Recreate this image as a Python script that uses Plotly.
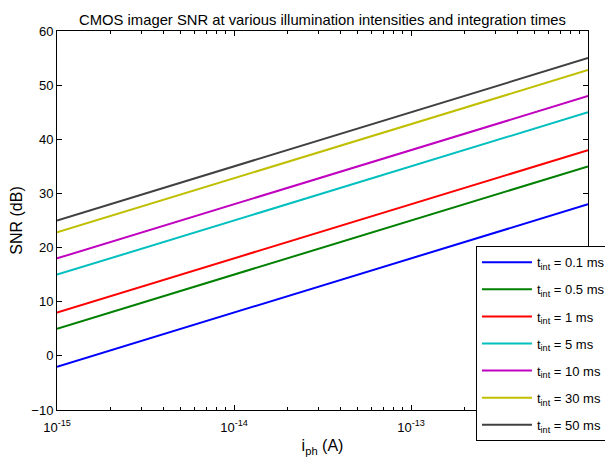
import plotly.graph_objects as go

iph = [1e-15, 2e-15, 5e-15, 1e-14, 2e-14, 5e-14, 1e-13, 2e-13, 5e-13, 1e-12]

snr_0p1 = [-2.0, 1.0, 5.0, 8.1, 11.0, 15.0, 18.0, 21.0, 25.0, 28.0]
snr_0p5 = [5.0, 8.0, 12.0, 15.0, 18.0, 22.0, 25.0, 28.0, 32.0, 35.0]
snr_1 = [8.0, 11.0, 15.0, 18.1, 21.0, 25.0, 28.0, 31.0, 35.0, 38.0]
snr_5 = [15.0, 18.0, 22.0, 25.1, 28.0, 32.0, 35.0, 38.0, 42.0, 45.0]
snr_10 = [18.0, 21.0, 25.0, 28.1, 31.0, 35.0, 38.0, 41.0, 45.0, 48.0]
snr_30 = [22.8, 25.8, 29.8, 32.9, 35.8, 39.8, 42.8, 45.8, 49.8, 52.8]
snr_50 = [25.0, 28.0, 32.0, 35.1, 38.0, 42.0, 45.0, 48.0, 52.0, 55.0]

labels = ["0.1 ms", "0.5 ms", "1 ms", "5 ms", "10 ms", "30 ms", "50 ms"]
series = [snr_0p1, snr_0p5, snr_1, snr_5, snr_10, snr_30, snr_50]
colors = ["#0000ff", "#008000", "#ff0000", "#00bfbf", "#bf00bf", "#bfbf00", "#404040"]

xticks = [1e-15, 1e-14, 1e-13, 1e-12]
xticktext = ["10<sup>-15</sup>", "10<sup>-14</sup>", "10<sup>-13</sup>", ""]
yticks = [-10, 0, 10, 20, 30, 40, 50, 60]
minor_x = [m * d for d in [1e-15, 1e-14, 1e-13] for m in range(2, 10)]

fig = go.Figure()
for i, (lab, ys, c) in enumerate(zip(labels, series, colors)):
    fig.add_trace(go.Scatter(
        x=iph, y=ys, mode="lines",
        line=dict(color=c, width=2),
        name="t<sub>int</sub> = " + lab,
        legendgroup=f"g{i}",
    ))

font = "Liberation Sans, Arial, sans-serif"
fig.update_layout(
    width=605, height=453,
    margin=dict(l=49, r=25, t=23, b=51, autoexpand=False),
    paper_bgcolor="white", plot_bgcolor="white",
    font=dict(family=font, size=13, color="black"),
    title=dict(text="CMOS imager SNR at various illumination intensities and integration times",
               xref="paper", x=0.5, xanchor="center", y=0.985, yanchor="top",
               font=dict(size=14.8)),
    showlegend=True,
    legend=dict(x=0.789, xanchor="left", y=0.432, yanchor="top",
                bgcolor="white", bordercolor="black", borderwidth=1,
                font=dict(size=13), traceorder="grouped", tracegroupgap=7.2,
                itemwidth=50),
)
fig.update_xaxes(
    type="log", range=[-15, -12], automargin=False,
    tickvals=xticks, ticktext=xticktext, ticklabelstandoff=5,
    ticks="inside", ticklen=5, tickcolor="black",
    minor=dict(tickvals=minor_x, ticks="inside", ticklen=3, tickcolor="black"),
    showline=True, linecolor="black", linewidth=1, mirror="ticks",
    showgrid=False, zeroline=False,
    title=dict(text="i<sub>ph</sub> (A)", standoff=6),
    tickfont=dict(size=13),
)
fig.update_yaxes(
    range=[-10, 60], tickvals=yticks, automargin=False,
    ticks="inside", ticklen=5, tickcolor="black",
    showline=True, linecolor="black", linewidth=1, mirror="ticks",
    showgrid=False, zeroline=False,
    title=dict(text="SNR (dB)", standoff=4),
    tickfont=dict(size=13),
)
fig.write_html("out.html")
